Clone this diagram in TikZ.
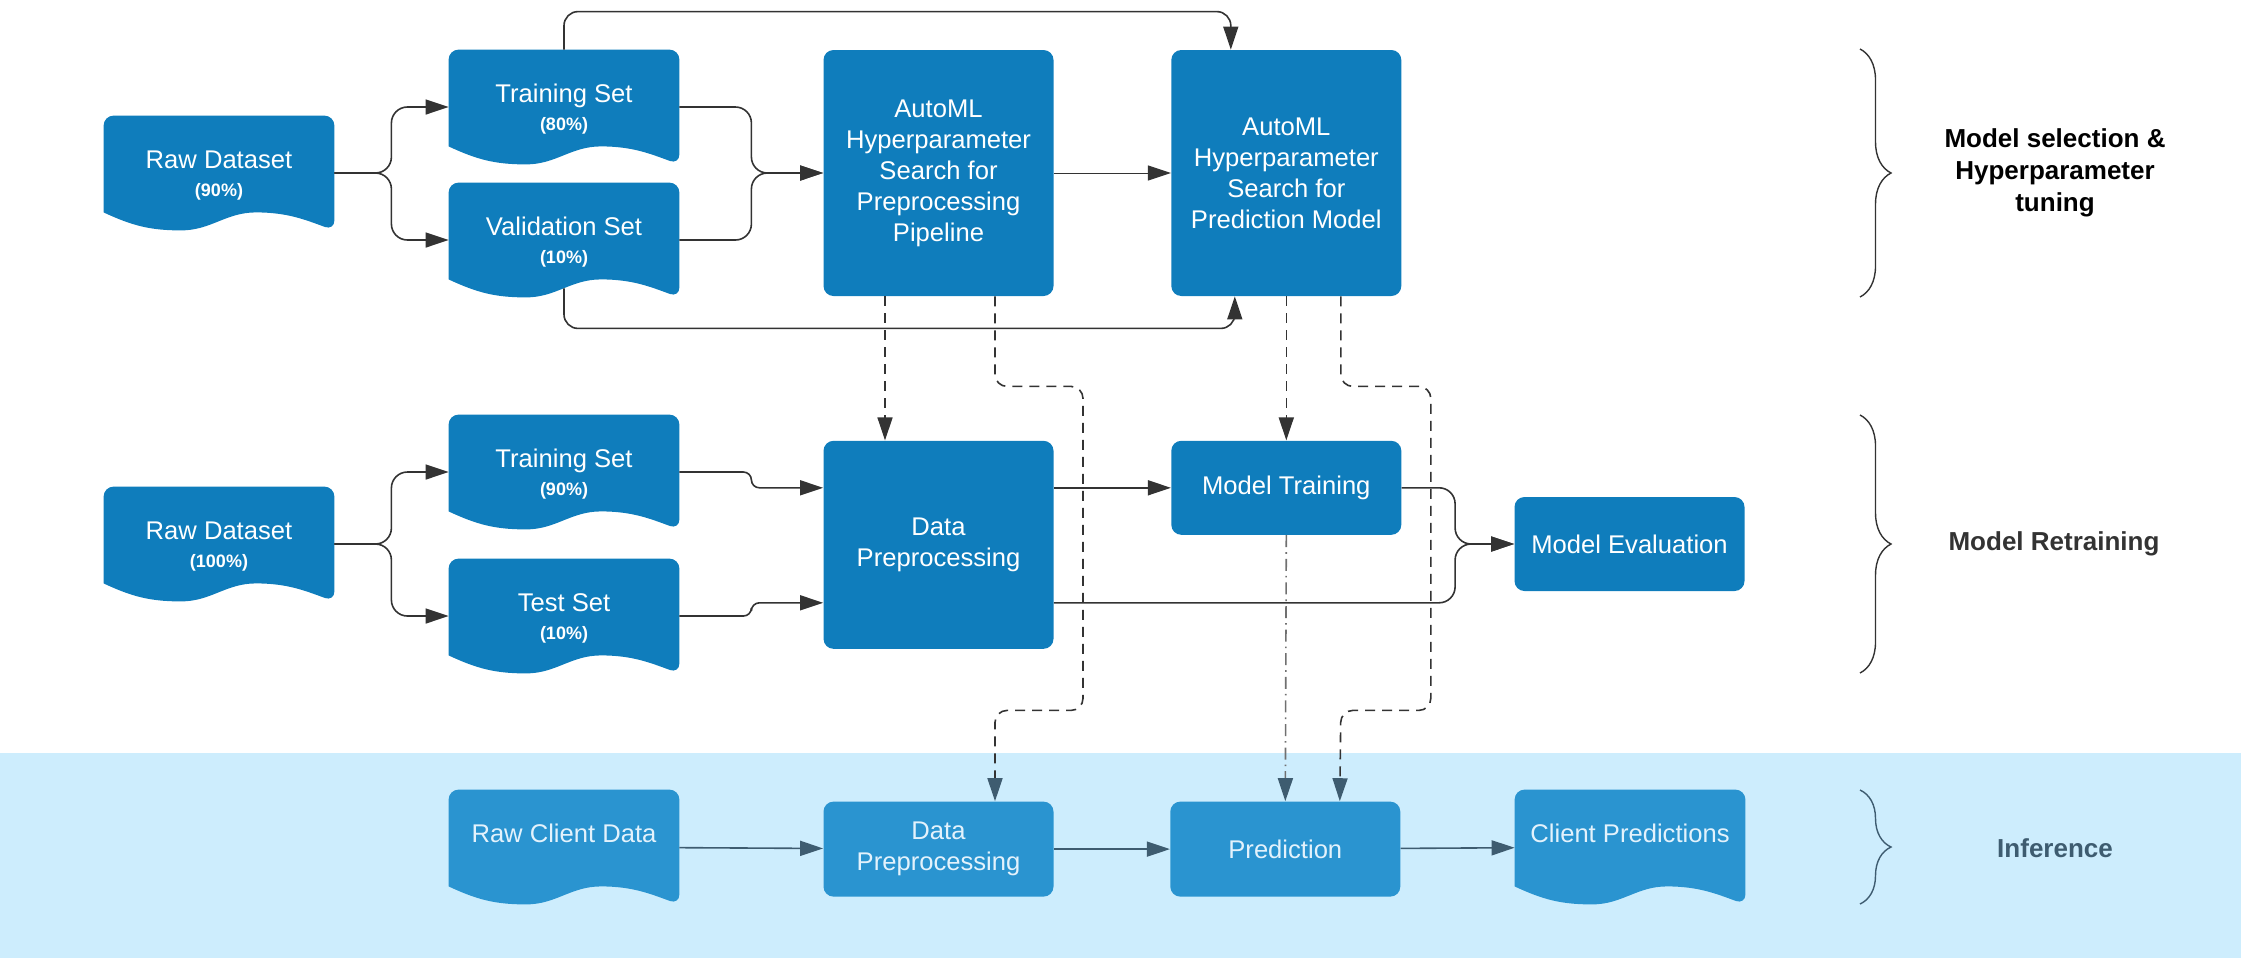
\documentclass[tikz,border=0pt]{standalone}
\usepackage{fontspec}
\setmainfont{Liberation Sans}
\usepackage{xcolor}
\usepackage{tikz}
\usetikzlibrary{arrows.meta, positioning, calc, decorations.pathreplacing}

\definecolor{boxblue}{HTML}{0F7DBC}
\definecolor{infblue}{HTML}{2A94D0}
\definecolor{bandblue}{HTML}{CDEDFD}
\definecolor{inftext}{HTML}{E3F2FC}
\definecolor{linegray}{HTML}{333333}
\definecolor{infslate}{HTML}{3E5C70}

\pgfdeclarelayer{bg}
\pgfsetlayers{bg,main}

\newcommand{\dtop}{\rule{0pt}{11.2pt}}
\newcommand{\pct}[1]{{\fontsize{9}{15.5}\selectfont\bfseries #1}}
\newcommand{\docfill}[2]{%
  \begin{pgfonlayer}{bg}
    \fill[#2] ([yshift=9pt]#1.south west) [rounded corners=5pt] -- (#1.north west) -- (#1.north east)
      -- (#1.south east) [sharp corners]
      to[out=160,in=0] ($(#1.south west)!0.66!(#1.south east)+(0,9pt)$)
      to[out=180,in=0] ($(#1.south west)!0.335!(#1.south east)$)
      to[out=180,in=-25] ([yshift=9pt]#1.south west) -- cycle;
  \end{pgfonlayer}}

\begin{document}
\begin{tikzpicture}[
  x=0.5pt, y=-0.5pt,
  box/.style={rectangle, fill=boxblue, rounded corners=5pt, minimum width=115pt, inner sep=2pt, align=center, text=white, font=\fontsize{12.8}{15.5}\selectfont},
  doc/.style={rectangle, minimum width=115pt, minimum height=57pt, inner sep=0pt, align=center, text=white, font=\fontsize{12.8}{15.5}\selectfont},
  ibox/.style={box, fill=infblue, text=inftext},
  idoc/.style={doc, text=inftext, text depth=14pt},
  conn/.style={draw=linegray, line width=0.8pt, rounded corners=8pt, -{Triangle[length=11.5pt, width=7.5pt]}},
  dconn/.style={conn, rounded corners=6pt, dash pattern=on 5pt off 3.5pt},
  itip/.style={-{Triangle[length=11.5pt, width=7.5pt, color=infslate]}},
  iconn/.style={conn, draw=infslate},
  brc/.style={draw=linegray, line width=0.7pt, decorate, decoration={brace, amplitude=15.5pt}},
  lbl/.style={align=center, font=\fontsize{13}{16}\selectfont\bfseries}
]
  \useasboundingbox (0,0) rectangle (2241,965);
  \begin{pgfonlayer}{bg}
    \fill[bandblue] (0,753) rectangle (2241,958);
  \end{pgfonlayer}

  \node[doc] (raw1) at (219,173) {\dtop Raw Dataset\\[-1.5pt]\pct{(90\%)}};
  \node[doc] (trs1) at (564,107) {\dtop Training Set\\[-1.5pt]\pct{(80\%)}};
  \node[doc] (val1) at (564,240) {\dtop Validation Set\\[-1.5pt]\pct{(10\%)}};
  \node[box, minimum height=123pt] (ap) at (938.5,173) {AutoML\\Hyperparameter\\Search for\\Preprocessing\\Pipeline};
  \node[box, minimum height=123pt, right=58.5pt of ap] (pred) {AutoML\\Hyperparameter\\Search for\\Prediction Model};

  \node[doc] (raw2) at (219,544) {\dtop Raw Dataset\\[-1.5pt]\pct{(100\%)}};
  \node[doc] (trs2) at (564,472) {\dtop Training Set\\[-1.5pt]\pct{(90\%)}};
  \node[doc] (tst) at (564,616) {\dtop Test Set\\[-1.5pt]\pct{(10\%)}};
  \node[box, minimum height=104pt, below=72pt of ap] (dp) {Data\\Preprocessing};
  \node[box, minimum height=47pt, below=72pt of pred] (mt) {Model Training};
  \node[box, minimum height=47pt] (me) at (1629.5,544) {Model Evaluation};

  \node[idoc] (rcd) at (564,847) {Raw Client Data};
  \node[ibox, minimum height=47.5pt, below=76pt of dp] (idp) {Data\\Preprocessing};
  \node[ibox, minimum height=47.5pt, right=58pt of idp] (ip) {Prediction};
  \node[idoc] (cp) at (1630,847) {Client Predictions};

  \docfill{raw1}{boxblue}
  \docfill{trs1}{boxblue}
  \docfill{val1}{boxblue}
  \docfill{raw2}{boxblue}
  \docfill{trs2}{boxblue}
  \docfill{tst}{boxblue}
  \docfill{rcd}{infblue}
  \docfill{cp}{infblue}

  \draw[conn] (raw1.east) -- ++(57,0) |- (trs1.west);
  \draw[conn] (raw1.east) -- ++(57,0) |- (val1.west);
  \draw[conn] (trs1.east) -- ++(72,0) |- (ap.west);
  \draw[conn] (val1.east) -- ++(72,0) |- (ap.west);
  \draw[conn, line width=0.5pt] (ap) -- (pred);
  \draw[conn, rounded corners=7pt] (trs1.north) -- ++(0,-38) -| ([xshift=-27.75pt]pred.north);
  \draw[conn, rounded corners=7pt] ([yshift=4.5pt]val1.south) -- ++(0,40) -| ([xshift=-25.75pt]pred.south);

  \draw[dconn] ([xshift=-26.75pt]ap.south) -- ([xshift=-26.75pt]dp.north);
  \draw[dconn, itip] ([xshift=28.25pt]ap.south) |- ++(88,90) |- ++(-88,324) -- ([xshift=28.25pt]idp.north);
  \draw[dconn] (pred.south) -- (mt.north);
  \draw[dconn, itip, draw=linegray!70, dash pattern=on 6pt off 2.5pt on 0.8pt off 2.5pt] (mt.south) -- (ip.north);
  \draw[dconn, itip] ([xshift=27.25pt]pred.south) |- ++(90,90) |- ++(-90,324) -- ([xshift=27.25pt]ip.north);

  \draw[conn] (raw2.east) -- ++(57,0) |- (trs2.west);
  \draw[conn] (raw2.east) -- ++(57,0) |- (tst.west);
  \draw[conn, rounded corners=4pt] (trs2.east) -- ++(72,0) |- ([yshift=28.5pt]dp.west);
  \draw[conn, rounded corners=4pt] (tst.east) -- ++(72,0) |- ([yshift=-29pt]dp.west);
  \draw[conn] (dp.east |- mt.west) -- (mt.west);
  \draw[conn] (mt.east) -| ([xshift=-29.5pt]me.west) -- (me.west);
  \draw[conn] ([yshift=-29pt]dp.east) -| ([xshift=-29.5pt]me.west) -- (me.west);

  \draw[iconn] (rcd) -- (idp);
  \draw[iconn] (idp) -- (ip);
  \draw[iconn] (ip) -- (cp);

  \draw[brc] (1860,49) -- (1860,297);
  \draw[brc] (1860,415) -- (1860,673);
  \draw[brc, draw=infslate] (1860,790) -- (1860,904);
  \node[lbl] (lsel) at (2055,173) {Model selection \&\\Hyperparameter\\tuning};
  \node[lbl, text=linegray] (lret) at (2054,544) {Model Retraining};
  \node[lbl, text=infslate] (linf) at (2055,848) {Inference};
\end{tikzpicture}
\end{document}
